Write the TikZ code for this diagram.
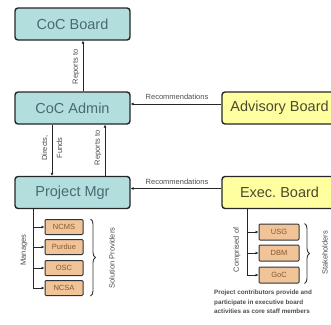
\documentclass[tikz,border=0pt]{standalone}
\usepackage{fontspec}
\setmainfont{Liberation Sans}
\usetikzlibrary{arrows.meta,decorations.pathreplacing}
\definecolor{cocblue}{RGB}{178,222,222}
\definecolor{cocyellow}{RGB}{255,255,160}
\definecolor{coctan}{RGB}{240,196,152}
\definecolor{coctext}{RGB}{75,105,115}
\tikzset{
  board/.style={draw=black!85, line width=1.4pt, rounded corners=3pt, fill=cocblue,
    minimum width=115pt, minimum height=32pt, inner sep=0pt, text=coctext,
    font=\fontsize{14.5}{14.5}\selectfont},
  panel/.style={board, fill=cocyellow, text=black!60!olive},
  member/.style={draw=black!80, line width=1pt, rounded corners=1pt, fill=coctan,
    minimum width=38pt, minimum height=15pt, inner sep=0pt, text=brown!70!black,
    font=\fontsize{7.5}{7.5}\selectfont},
  conn/.style={draw=black!85, line width=1pt, -{Latex[length=3pt,width=3pt]}},
  lbl/.style={font=\fontsize{7.5}{7.5}\selectfont, text=black!70, inner sep=0pt},
  curly/.style={draw=black!80, line width=0.9pt, decorate, decoration={brace, amplitude=5pt}}
}
\begin{document}
\begin{tikzpicture}[x=1pt, y=-1pt]
  \clip (0,0) rectangle (331,324);
  \node[board] (board) at (72.5,24) {CoC Board};
  \node[board] (admin) at (72.5,108) {CoC Admin};
  \node[board] (mgr) at (72.5,192.5) {Project Mgr};
  \node[panel] (advisory) at (279.5,108) {Advisory Board};
  \node[panel] (exec) at (279.5,192.5) {Exec.\ Board};
  \node[member] (ncms) at (64,227) {NCMS};
  \node[member] (purdue) at (64,247) {Purdue};
  \node[member] (osc) at (64,268) {OSC};
  \node[member] (ncsa) at (64,288) {NCSA};
  \node[member, minimum width=40pt, minimum height=16pt] (usg) at (279,232) {USG};
  \node[member, minimum width=40pt, minimum height=16pt] (dbm) at (279,253) {DBM};
  \node[member, minimum width=40pt, minimum height=16pt] (goc) at (279,275) {GoC};
  \coordinate (mgrfoot) at (33,208);
  \coordinate (execfoot) at (247,208);
  \draw[conn] (admin.north -| 83,0) -- (board.south -| 83,0);
  \draw[conn] (admin.south -| 52,0) -- (mgr.north -| 52,0);
  \draw[conn] (mgr.north -| 105,0) -- (admin.south -| 105,0);
  \draw[conn] ([yshift=4pt]advisory.west) -- ([yshift=4pt]admin.east);
  \draw[conn] ([yshift=4pt]exec.west) -- ([yshift=4pt]mgr.east);
  \foreach \p in {ncms,purdue,osc,ncsa}
    \draw[conn] (mgrfoot) |- (\p.west);
  \foreach \p in {usg,dbm,goc}
    \draw[conn] (execfoot) |- (\p.west);
  \node[lbl, rotate=90] (reportsup) at (76,67) {Reports to};
  \node[lbl, rotate=90] (reportsmgr) at (98,148) {Reports to};
  \node[lbl, rotate=90, align=center, font=\fontsize{7.5}{15}\selectfont] (directs) at (52,148) {Directs,\\Funds};
  \node[lbl] (recadv) at (177,97) {Recommendations};
  \node[lbl] (recexec) at (177,182) {Recommendations};
  \node[lbl, rotate=90] (manages) at (24,250) {Manages};
  \node[lbl, rotate=90] (compr) at (237,250) {Comprised of};
  \draw[curly] ([xshift=7pt]ncms.north east) -- ([xshift=7pt]ncsa.south east);
  \draw[curly] ([xshift=5pt]usg.north east) -- ([xshift=5pt]goc.south east);
  \node[lbl, rotate=90] (solution) at (112,258) {Solution Providers};
  \node[lbl, rotate=90] (stake) at (325,253) {Stakeholders};
  \node[lbl, anchor=north west, align=left, font=\bfseries\fontsize{6.3}{9.5}\selectfont] (note) at (214,290)
    {Project contributors provide and\\participate in executive board\\activities as core staff members};
\end{tikzpicture}
\end{document}
